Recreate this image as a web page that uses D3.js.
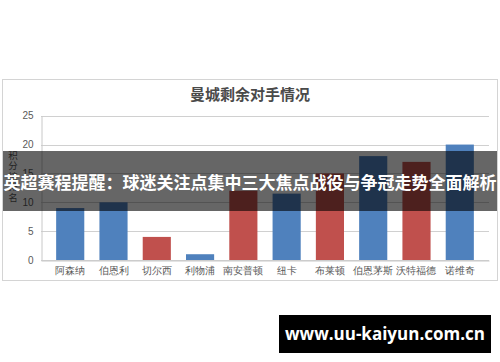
<!DOCTYPE html>
<html>
<head>
<meta charset="utf-8">
<script src="https://cdn.jsdelivr.net/npm/d3@7"></script>
<style>
  body { margin: 0; background: #fff; }
  svg { display: block; font-family: "Noto Sans CJK SC", "Noto Sans", sans-serif; }
</style>
</head>
<body>
<div id="chart"></div>
<script>
// data
const teams = ["阿森纳", "伯恩利", "切尔西", "利物浦", "南安普顿", "纽卡", "布莱顿", "伯恩茅斯", "沃特福德", "诺维奇"];
const ranks = [9, 10, 4, 1, 12, 11.5, 15, 18, 17, 20];
const teamColors = ["#4F81BD", "#4F81BD", "#C0504D", "#4F81BD", "#C0504D", "#4F81BD", "#C0504D", "#4F81BD", "#C0504D", "#4F81BD"];
const yTicks = [0, 5, 10, 15, 20, 25];
const chartTitle = "曼城剩余对手情况";
const yTitle = "积分榜排名";
const banner = "英超赛程提醒：球迷关注点集中三大焦点战役与争冠走势全面解析";
const site = "www.uu-kaiyun.com.cn";

const W = 500, H = 362;
const svg = d3.select("#chart").append("svg")
    .attr("width", W)
    .attr("height", H);

// chart frame
svg.append("rect")
    .attr("x", 2.5).attr("y", 79.5)
    .attr("width", 495).attr("height", 201)
    .attr("fill", "#fff")
    .attr("stroke", "#d4d4d4");

svg.append("text")
    .attr("x", 250).attr("y", 96)
    .attr("text-anchor", "middle")
    .attr("dominant-baseline", "middle")
    .attr("font-size", 15)
    .attr("font-weight", "bold")
    .attr("fill", "#4a4a4a")
    .text(chartTitle);

const x = d3.scaleBand()
    .domain(teams)
    .range([41, 489])
    .padding(0.35);

const y = d3.scaleLinear()
    .domain([0, 25])
    .range([260, 115.7]);

// gridlines
svg.append("g")
  .selectAll("line")
  .data(yTicks)
  .join("line")
    .attr("x1", 41).attr("x2", 489)
    .attr("y1", d => Math.round(y(d)) + 0.5)
    .attr("y2", d => Math.round(y(d)) + 0.5)
    .attr("stroke", "#d0d0d0");

// y axis
const yAxis = svg.append("g")
    .attr("transform", "translate(41.5,0)")
    .call(d3.axisLeft(y).tickValues(yTicks).tickSize(0).tickPadding(8));
yAxis.select(".domain").attr("stroke", "#c8c8c8");
yAxis.selectAll("text")
    .attr("font-size", 10)
    .attr("fill", "#595959")
    .attr("font-family", "\"Liberation Sans\", sans-serif");

// y title, stacked characters
svg.append("g")
  .selectAll("text")
  .data(yTitle.split(""))
  .join("text")
    .attr("x", 13)
    .attr("y", (d, i) => 156 + i * 10.5)
    .attr("text-anchor", "middle")
    .attr("dominant-baseline", "middle")
    .attr("font-size", 9.5)
    .attr("fill", "#595959")
    .text(d => d);

// bars
svg.append("g")
  .selectAll("rect")
  .data(teams)
  .join("rect")
    .attr("x", d => x(d))
    .attr("y", (d, i) => y(ranks[i]))
    .attr("width", x.bandwidth())
    .attr("height", (d, i) => y(0) - y(ranks[i]))
    .attr("fill", (d, i) => teamColors[i]);

// x axis
const xAxis = svg.append("g")
    .attr("transform", "translate(0,260.5)")
    .call(d3.axisBottom(x).tickSize(0).tickPadding(6));
xAxis.select(".domain").attr("stroke", "#c8c8c8");
xAxis.selectAll("text")
    .attr("font-size", 10)
    .attr("fill", "#595959");

// dark banner over the chart
svg.append("rect")
    .attr("x", 3).attr("y", 151)
    .attr("width", 494).attr("height", 60)
    .attr("fill", "rgba(0,0,0,0.6)");

svg.append("text")
    .attr("x", 250).attr("y", 184)
    .attr("text-anchor", "middle")
    .attr("dominant-baseline", "middle")
    .attr("font-size", 17)
    .attr("font-weight", "bold")
    .attr("fill", "#fff")
    .text(banner);

// site label
svg.append("rect")
    .attr("x", 279).attr("y", 315)
    .attr("width", 212).attr("height", 38)
    .attr("fill", "#000");

svg.append("text")
    .attr("x", 385).attr("y", 335)
    .attr("text-anchor", "middle")
    .attr("dominant-baseline", "middle")
    .attr("font-size", 17)
    .attr("font-weight", "bold")
    .attr("font-family", "\"Open Sans\", sans-serif")
    .attr("fill", "#fff")
    .text(site);
</script>
</body>
</html>
